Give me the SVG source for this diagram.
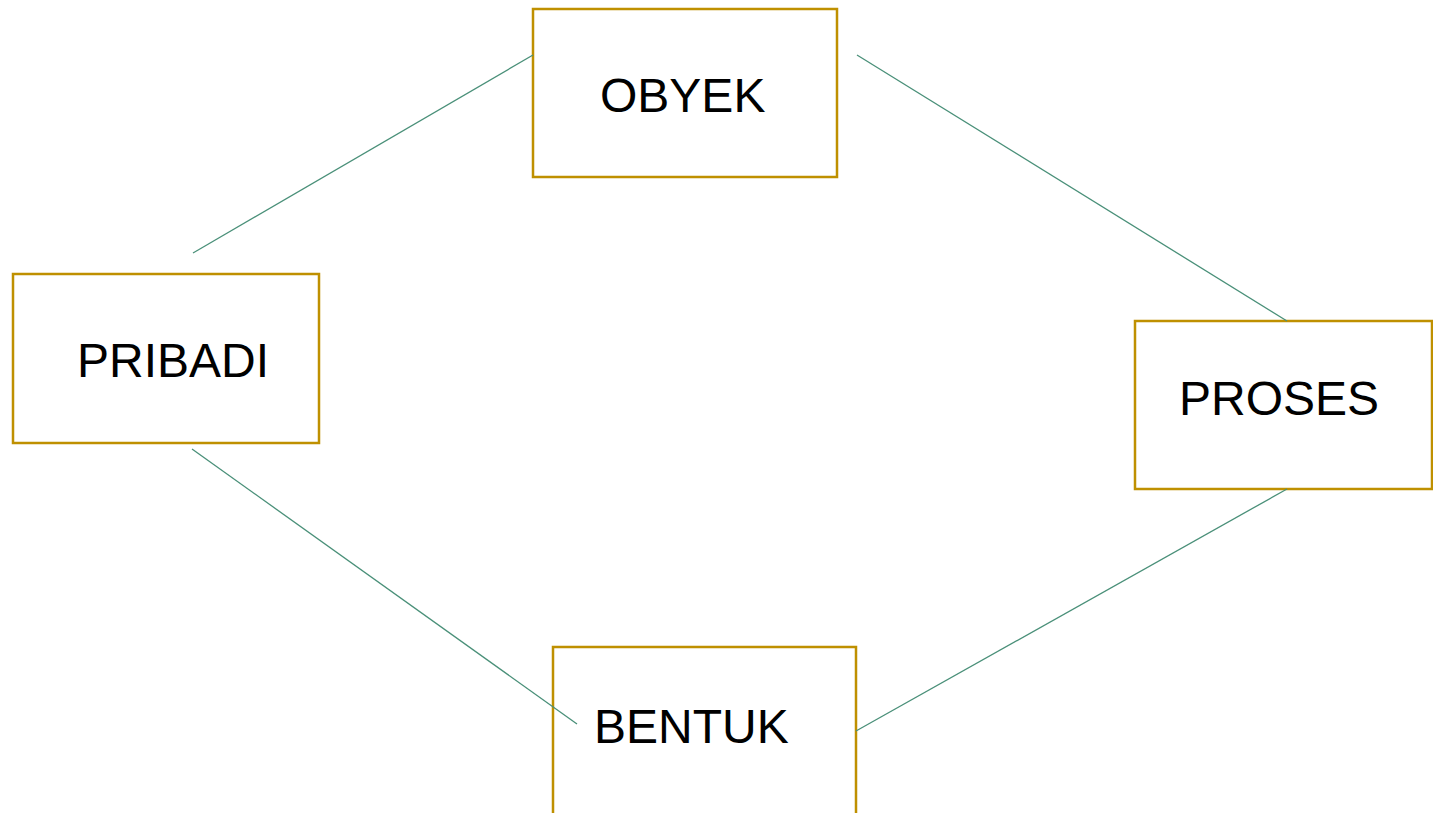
<svg xmlns="http://www.w3.org/2000/svg" width="1433" height="813" viewBox="0 0 1433 813">
<style>
.box{fill:#FFFFFF;stroke:#BF9000;stroke-width:2.5}
.lbl{font-family:"Liberation Sans",Arial,sans-serif;font-size:48px;fill:#000000}
.con line{stroke:#4A9079;stroke-width:1.3}
</style>
<rect width="1433" height="813" fill="#FFFFFF"/>
<g id="node-obyek">
<rect class="box" x="533" y="9" width="304" height="168"/>
<text class="lbl" x="600" y="112">OBYEK</text>
</g>
<g id="node-pribadi">
<rect class="box" x="13" y="274" width="306" height="169"/>
<text class="lbl" x="77" y="377">PRIBADI</text>
</g>
<g id="node-proses">
<rect class="box" x="1135" y="321" width="297" height="168"/>
<text class="lbl" x="1179" y="415">PROSES</text>
</g>
<g id="node-bentuk">
<rect class="box" x="553" y="647" width="303" height="180"/>
<text class="lbl" x="594" y="743">BENTUK</text>
</g>
<g id="connectors" class="con">
<line x1="193" y1="253" x2="533" y2="55"/>
<line x1="857" y1="55" x2="1287" y2="321"/>
<line x1="192" y1="449" x2="577" y2="724"/>
<line x1="856" y1="731" x2="1287" y2="489"/>
</g>
</svg>
